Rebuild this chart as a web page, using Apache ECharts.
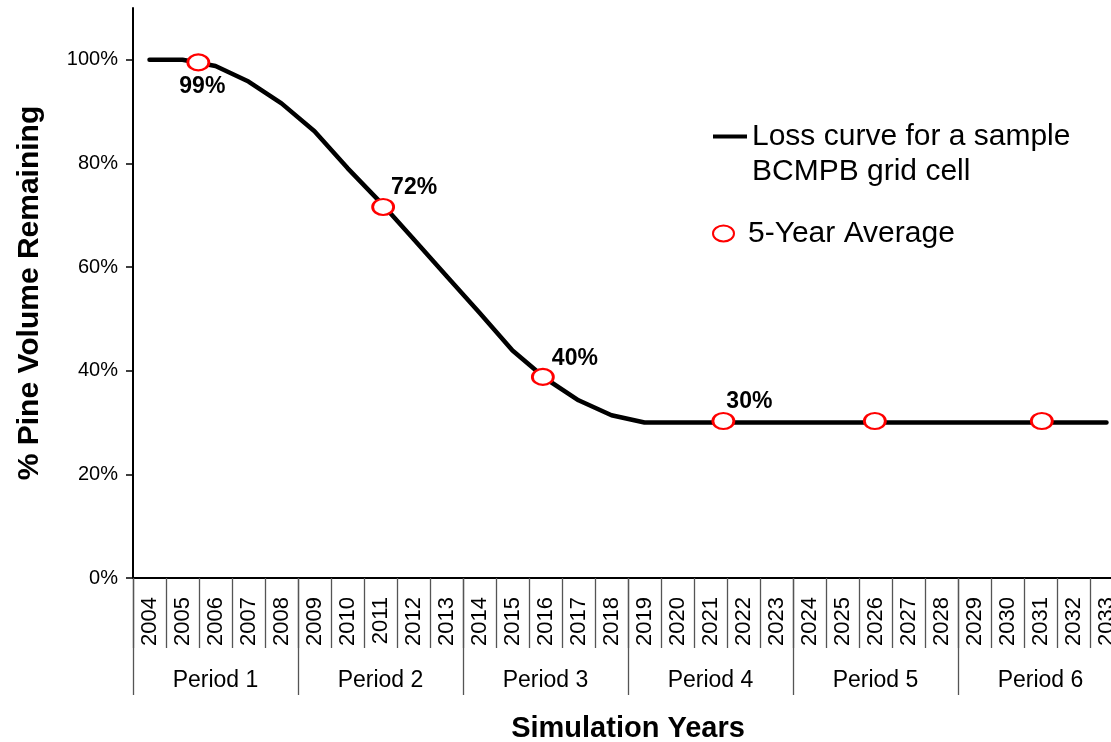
<!DOCTYPE html>
<html>
<head>
<meta charset="utf-8">
<title>Pine Volume Remaining</title>
<script src="https://cdn.jsdelivr.net/npm/echarts@6/dist/echarts.min.js"></script>
<style>
    html, body { margin: 0; padding: 0; background: #fff; }
    #chart { width: 1111px; height: 742px; }
</style>
</head>
<body>
<div id="chart"></div>
<script>
var years = ['2004', '2005', '2006', '2007', '2008', '2009', '2010', '2011', '2012', '2013',
    '2014', '2015', '2016', '2017', '2018', '2019', '2020', '2021', '2022', '2023',
    '2024', '2025', '2026', '2027', '2028', '2029', '2030', '2031', '2032', '2033'];
var periods = ['Period 1', 'Period 2', 'Period 3', 'Period 4', 'Period 5', 'Period 6'];

// % volume left each year
var lossCurve = [100, 100, 98.8, 95.8, 91.6, 86.2, 79.1, 72.5, 65.4, 58.3,
    51.2, 43.9, 38.5, 34.3, 31.4, 30.0, 30, 30, 30, 30,
    30, 30, 30, 30, 30, 30, 30, 30, 30, 30];

// 5-year averages, x in "year slots" from the left axis
var avgPos = [1.98, 7.58, 12.42, 17.89, 22.48, 27.54];
var avgValue = [99.5, 71.6, 38.8, 30.3, 30.3, 30.3];
var avgLabel = ['99%', '72%', '40%', '30%', '', ''];

var yTicks = [0, 20, 40, 60, 80, 100];

var lossName = 'Loss curve for a sample\nBCMPB grid cell';
var avgName = '5-Year Average';

// where each average label sits relative to its marker
var labelOffsets = [[4, 24], [31, -19], [32, -18], [26, -19], [0, 0], [0, 0]];
var ellipse = 'path://M0,8A10.5,8,0,1,1,21,8A10.5,8,0,1,1,0,8Z';

function buildLine() {
    var out = [];
    for (var i = 0; i < lossCurve.length; i++) {
        out.push([i + 0.5, lossCurve[i]]);
    }
    return out;
}

function buildAvg() {
    var out = [];
    for (var i = 0; i < avgPos.length; i++) {
        out.push({
            value: [avgPos[i], avgValue[i]],
            label: {
                show: avgLabel[i] !== '',
                formatter: avgLabel[i],
                offset: labelOffsets[i]
            }
        });
    }
    return out;
}

var chart = echarts.init(document.getElementById('chart'), null, {renderer: 'canvas'});

var option = {
    animation: false,
    backgroundColor: '#fff',
    textStyle: {fontFamily: '"Liberation Sans", Arial, sans-serif', color: '#000'},
    grid: {left: 133, width: 990, top: 8, bottom: 164, containLabel: false, outerBoundsMode: 'none'},
    legend: [{
        left: 713,
        top: 84,
        padding: 0,
        selectedMode: false,
        itemWidth: 34,
        itemHeight: 4,
        data: [{name: lossName, icon: 'rect'}],
        // blank first line keeps the icon level with the first text line
        formatter: function (name) {
            return ' \n' + name;
        },
        textStyle: {fontSize: 30, lineHeight: 35, color: '#000'}
    }, {
        left: 712,
        top: 213,
        padding: 0,
        selectedMode: false,
        itemWidth: 21,
        itemHeight: 16,
        data: [{name: avgName}],
        textStyle: {fontSize: 30, lineHeight: 35, color: '#000', padding: [0, 0, 6, 9]}
    }],
    xAxis: [{
        type: 'value',
        min: 0,
        max: 30,
        show: false
    }, {
        type: 'category',
        data: years,
        position: 'bottom',
        axisLine: {show: true, lineStyle: {color: '#000', width: 2}},
        axisTick: {show: true, interval: 0, length: 70, lineStyle: {color: '#555', width: 1.3}},
        axisLabel: {interval: 0, rotate: 90, margin: 19, fontSize: 22, color: '#000'},
        splitLine: {show: false}
    }, {
        type: 'category',
        data: periods,
        position: 'bottom',
        axisLine: {show: false},
        axisTick: {show: true, interval: 0, length: 117, lineStyle: {color: '#555', width: 1.3}},
        axisLabel: {interval: 0, margin: 91, fontSize: 23, color: '#000'},
        splitLine: {show: false},
        name: 'Simulation Years',
        nameLocation: 'middle',
        nameGap: 136,
        nameTextStyle: {fontSize: 29, fontWeight: 'bold', color: '#000'}
    }],
    yAxis: {
        type: 'value',
        min: 0,
        max: 110,
        interval: 20,
        axisLine: {show: true, lineStyle: {color: '#000', width: 2}},
        axisTick: {show: true, length: 7, customValues: yTicks, lineStyle: {color: '#000', width: 1.5}},
        axisLabel: {customValues: yTicks, formatter: '{value}%', fontSize: 20, color: '#000', margin: 15},
        splitLine: {show: false},
        name: '% Pine Volume Remaining',
        nameLocation: 'middle',
        nameGap: 88,
        nameTextStyle: {fontSize: 30, fontWeight: 'bold', color: '#000'}
    },
    series: [{
        type: 'line',
        name: lossName,
        xAxisIndex: 0,
        data: buildLine(),
        symbol: 'none',
        color: '#000',
        lineStyle: {color: '#000', width: 4.5, cap: 'round', join: 'round'},
        emphasis: {disabled: true},
        z: 2
    }, {
        type: 'scatter',
        name: avgName,
        xAxisIndex: 0,
        data: buildAvg(),
        symbol: ellipse,
        symbolSize: [21, 16],
        itemStyle: {color: '#fff', borderColor: '#ff0000', borderWidth: 2.5, opacity: 1},
        label: {
            position: 'inside',
            fontSize: 23,
            fontWeight: 'bold',
            color: '#000'
        },
        emphasis: {disabled: true},
        z: 3
    }]
};

chart.setOption(option);
</script>
</body>
</html>
